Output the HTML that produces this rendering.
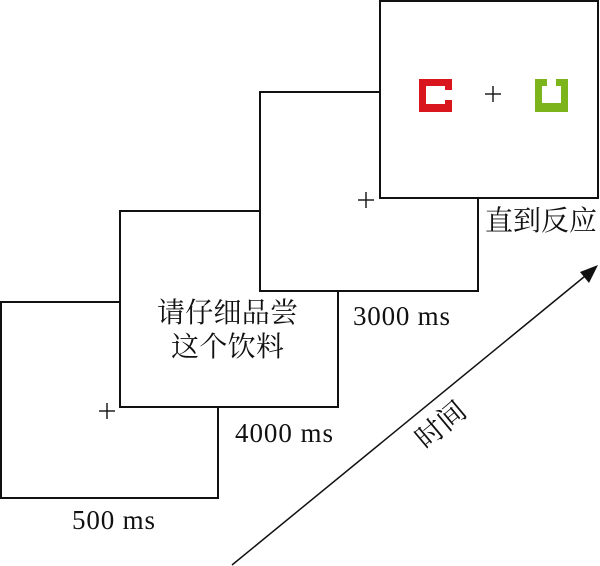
<!DOCTYPE html>
<html><head><meta charset="utf-8"><style>
html,body{margin:0;padding:0;background:#fff;}
</style></head><body>
<svg width="600" height="566" viewBox="0 0 600 566" xmlns="http://www.w3.org/2000/svg" style="display:block">
<g fill="#fff" stroke="#111" stroke-width="2">
<rect x="1" y="302" width="217" height="196"/>
<rect x="120" y="211" width="218" height="196"/>
<rect x="260" y="92" width="218" height="199"/>
<rect x="380" y="1" width="218" height="197"/>
</g>
<g stroke="#111" stroke-width="1.4">
<line x1="99" y1="411" x2="115" y2="411"/><line x1="107" y1="403" x2="107" y2="419"/>
<line x1="358" y1="200" x2="374" y2="200"/><line x1="366" y1="192" x2="366" y2="208"/>
<line x1="485" y1="94" x2="501" y2="94"/><line x1="493" y1="86" x2="493" y2="102"/>
</g>
<rect x="419" y="79" width="33" height="33" fill="#d9151d"/>
<rect x="426" y="86" width="19" height="18" fill="#fff"/>
<rect x="444" y="90" width="9" height="10" fill="#fff"/>
<rect x="535" y="79" width="33" height="33" fill="#7cb41c"/>
<rect x="542" y="86" width="19" height="17" fill="#fff"/>
<rect x="547" y="78" width="9" height="9" fill="#fff"/>
<line x1="232" y1="565" x2="590" y2="272" stroke="#111" stroke-width="1.5"/>
<polygon points="598,265 580,272 589,283" fill="#111"/>
<g font-family="Liberation Serif, serif" font-size="27" fill="#111">
<text x="72" y="529" textLength="83">500 ms</text>
<text x="235" y="442" textLength="98">4000 ms</text>
<text x="353" y="325" textLength="97">3000 ms</text>
</g>
<g font-family="Liberation Serif, 'Noto Serif CJK SC', serif" font-size="28" fill="#111">
<text x="485" y="230" textLength="112">直到反应</text>
<text x="157" y="322" textLength="141">请仔细品尝</text>
<text x="171" y="356" textLength="113">这个饮料</text>
<text transform="translate(447,432) rotate(-40)" text-anchor="middle" font-size="28">时间</text>
</g>
</svg>
</body></html>
